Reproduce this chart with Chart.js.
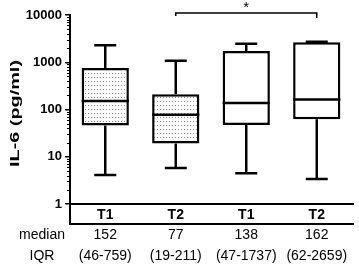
<!DOCTYPE html>
<html>
<head>
<meta charset="utf-8">
<script src="https://cdn.jsdelivr.net/npm/chart.js@4.4.1/dist/chart.umd.min.js"></script>
<style>
html,body{margin:0;padding:0;background:#fff;}
</style>
</head>
<body>
<canvas id="myChart" width="359" height="266"></canvas>
<script>
// box plot values (pg/ml)
let groups=["T1","T2","T1","T2"];
let whiskerMin=[4.1,5.8,4.5,3.4];
let q1=[46,19,47,62];
let median=[152,77,138,162];
let q3=[759,211,1737,2659];
let whiskerMax=[2300,1080,2450,2700];
let dotted=[true,true,false,false];
let yTicks=[1,10,100,1000,10000];
let sigPair=[1,3];

const FONT="'Liberation Sans', Arial, sans-serif";

var ctx=document.getElementById("myChart").getContext("2d");

function dotPattern(){
    let c=document.createElement("canvas");
    c.width=3;c.height=4;
    let p=c.getContext("2d");
    p.fillStyle="#fff";p.fillRect(0,0,3,4);
    p.fillStyle="#8c8c8c";p.fillRect(1,1,1,1);
    return ctx.createPattern(c,"repeat");
}
let pat=dotPattern();

let boxPlugin={
    id:"boxExtras",
    afterDatasetsDraw(chart){
        let c=chart.ctx, xs=chart.scales.x, ys=chart.scales.y, area=chart.chartArea;
        let bars=chart.getDatasetMeta(0).data;
        c.save();
        c.strokeStyle="#000";
        c.lineCap="butt";
        // whiskers and medians
        bars.forEach((bar,i)=>{
            let x=bar.x, hw=bar.width/2, cap=11;
            let yMax=ys.getPixelForValue(whiskerMax[i]);
            let yMin=ys.getPixelForValue(whiskerMin[i]);
            let yQ3=ys.getPixelForValue(q3[i]);
            let yQ1=ys.getPixelForValue(q1[i]);
            let yMed=ys.getPixelForValue(median[i]);
            c.lineWidth=2.5;
            c.beginPath();
            c.moveTo(x,yQ3);c.lineTo(x,yMax);
            c.moveTo(x-cap,yMax);c.lineTo(x+cap,yMax);
            c.moveTo(x,yQ1);c.lineTo(x,yMin);
            c.moveTo(x-cap,yMin);c.lineTo(x+cap,yMin);
            c.stroke();
            c.beginPath();
            c.moveTo(x-hw,yMed);c.lineTo(x+hw,yMed);
            c.stroke();
        });
        // axis frame
        let rowBottom=area.bottom+20;
        c.lineWidth=2;
        c.beginPath();
        c.moveTo(area.left,area.top-1);c.lineTo(area.left,rowBottom+1);
        c.moveTo(area.left,area.bottom);c.lineTo(area.right+2,area.bottom);
        c.moveTo(area.left,rowBottom);c.lineTo(area.right+2,rowBottom);
        c.stroke();
        // minor log ticks
        c.lineWidth=1;
        c.beginPath();
        for(let d=0;d<yTicks.length-1;d++){
            for(let k=2;k<10;k++){
                let y=Math.round(ys.getPixelForValue(yTicks[d]*k))+0.5;
                c.moveTo(area.left-3,y);c.lineTo(area.left,y);
            }
        }
        c.stroke();
        // significance bracket
        let x1=xs.getPixelForValue(sigPair[0]), x2=xs.getPixelForValue(sigPair[1]);
        let yb=area.top-2;
        c.lineWidth=1.5;
        c.beginPath();
        c.moveTo(x1,yb+3);c.lineTo(x1,yb);c.lineTo(x2,yb);c.lineTo(x2,yb+5);
        c.stroke();
        c.fillStyle="#000";
        c.textAlign="center";c.textBaseline="middle";
        c.font="15px "+FONT;
        c.fillText("*",(x1+x2)/2,yb-5);
        // median / IQR rows
        c.font="14px "+FONT;
        let r1=area.bottom+31, r2=area.bottom+52;
        c.fillText("median",42,r1);
        c.fillText("IQR",42,r2);
        groups.forEach((g,i)=>{
            let x=xs.getPixelForValue(i);
            c.fillText(String(median[i]),x,r1);
            c.fillText("("+q1[i]+"-"+q3[i]+")",x,r2);
        });
        // y title (stretched along its length like the source figure)
        c.font="bold 12px "+FONT;
        let t="IL-6 (pg/ml)";
        let w=c.measureText(t).width;
        c.translate(19,113.5);
        c.rotate(-Math.PI/2);
        c.scale(107/w,1);
        c.textBaseline="alphabetic";
        c.fillText(t,0,0);
        c.restore();
    }
};

new Chart(ctx,{
    type:"bar",
    data:{
        labels:groups,
        datasets:[{
            data:groups.map((g,i)=>[q1[i],q3[i]]),
            backgroundColor:dotted.map(d=>d?pat:"#fff"),
            borderColor:"#000",
            borderWidth:2.5,
            borderSkipped:false,
            barPercentage:0.67,
            categoryPercentage:1
        }]
    },
    options:{
        responsive:false,
        animation:false,
        devicePixelRatio:1,
        layout:{padding:{top:15,right:7,left:0,bottom:0}},
        plugins:{legend:{display:false},tooltip:{enabled:false}},
        scales:{
            x:{
                grid:{display:false,drawTicks:false},
                border:{display:false},
                ticks:{color:"#000",font:{family:FONT,size:14,weight:"bold"},padding:3},
                afterFit(s){s.height=62;}
            },
            y:{
                type:"logarithmic",
                min:1,max:10000,
                afterBuildTicks(s){s.ticks=yTicks.map(v=>({value:v,major:true}));},
                grid:{drawOnChartArea:false,drawTicks:true,tickLength:5,color:"#000",lineWidth:1.5},
                border:{display:false},
                ticks:{color:"#000",font:{family:FONT,size:13,weight:"bold"},padding:3,
                    callback:(v)=>String(v)},
                afterFit(s){s.width=70;}
            }
        }
    },
    plugins:[boxPlugin]
});
</script>
</body>
</html>
